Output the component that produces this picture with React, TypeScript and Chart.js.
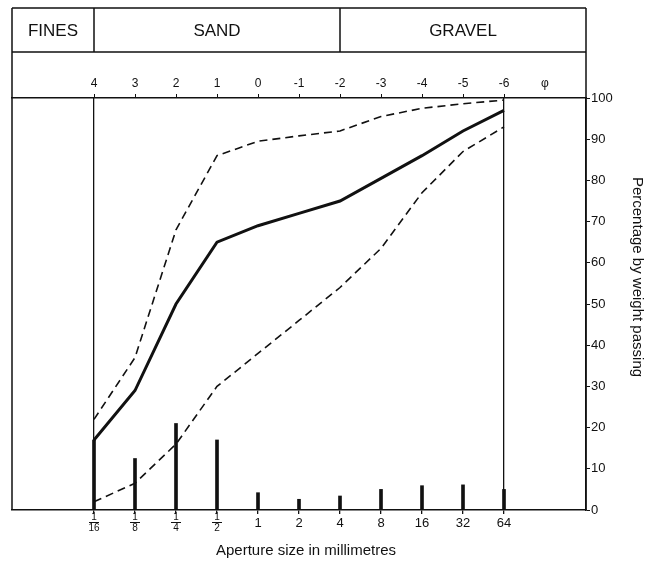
import React, { useEffect, useRef } from "react";
import { Chart, registerables } from "chart.js";

Chart.register(...registerables);

// ---- data ----
const phiValues = [4, 3, 2, 1, 0, -1, -2, -3, -4, -5, -6];
const apertureLabels = ["1/16", "1/8", "1/4", "1/2", "1", "2", "4", "8", "16", "32", "64"];
const upperEnvelope = [22, 37, 68, 86, 89.5, 90.8, 92, 95.5, 97.5, 98.6, 99.5];
const meanCurve = [17, 29, 50, 65, 69, 72, 75, 80.5, 86, 92, 97];
const lowerEnvelope = [2, 6.5, 16, 30, 38, 46, 54, 63.5, 77, 87, 93];
const retainedPercent = [17, 12.5, 21, 17, 4.2, 2.6, 3.4, 5, 5.9, 6.1, 5];
const phiTickLabels = ["4", "3", "2", "1", "0", "-1", "-2", "-3", "-4", "-5", "-6", "φ"];
const phiTickPhi = [4, 3, 2, 1, 0, -1, -2, -3, -4, -5, -6, -7];
const percentTicks = [0, 10, 20, 30, 40, 50, 60, 70, 80, 90, 100];
const zoneNames = ["FINES", "SAND", "GRAVEL"];
const zoneEdgesPhi = [4, -2];
const xTitle = "Aperture size in millimetres";
const yTitle = "Percentage by weight passing";

const FONT = "'Liberation Sans', Arial, Helvetica, sans-serif";
const INK = "#111";

// scale value is -phi (log2 of mm)
const xs = phiValues.map((p) => -p);

const framePlugin = {
  id: "frame",
  afterDraw(chart: any) {
    const { ctx, chartArea: ca, scales } = chart;
    const sx = scales.x;
    const top = 8;
    const headerBottom = 52;
    ctx.save();
    ctx.strokeStyle = INK;
    ctx.lineWidth = 1.5;
    ctx.beginPath();
    ctx.moveTo(ca.left, top);
    ctx.lineTo(ca.right, top);
    ctx.moveTo(ca.left, headerBottom);
    ctx.lineTo(ca.right, headerBottom);
    ctx.moveTo(ca.left, top);
    ctx.lineTo(ca.left, ca.bottom);
    ctx.moveTo(ca.right, top);
    ctx.lineTo(ca.right, ca.bottom);
    const edges = zoneEdgesPhi.map((p) => sx.getPixelForValue(-p));
    edges.forEach((px: number) => {
      ctx.moveTo(px, top);
      ctx.lineTo(px, headerBottom);
    });
    ctx.stroke();

    // zone names
    const bounds = [ca.left, ...edges, ca.right];
    ctx.fillStyle = INK;
    ctx.font = `17px ${FONT}`;
    ctx.textAlign = "center";
    ctx.textBaseline = "middle";
    zoneNames.forEach((name, i) => {
      ctx.fillText(name, (bounds[i] + bounds[i + 1]) / 2, (top + headerBottom) / 2 + 1);
    });

    // fraction tick labels
    apertureLabels.forEach((lab, i) => {
      if (!lab.includes("/")) return;
      const [num, den] = lab.split("/");
      const px = sx.getPixelForValue(xs[i]);
      ctx.font = `10px ${FONT}`;
      ctx.fillText(num, px, 517.5);
      ctx.fillText(den, px, 528);
      ctx.lineWidth = 1;
      ctx.beginPath();
      ctx.moveTo(px - 5, 522.5);
      ctx.lineTo(px + 5, 522.5);
      ctx.stroke();
    });

    // axis titles
    ctx.font = `15px ${FONT}`;
    ctx.fillText(xTitle, 306, 551);
    ctx.translate(637, 277);
    ctx.rotate(Math.PI / 2);
    ctx.fillText(yTitle, 0, 0);
    ctx.restore();
  },
};

export default function App() {
  const ref = useRef<HTMLCanvasElement | null>(null);

  useEffect(() => {
    if (!ref.current) return;
    Chart.defaults.font.family = FONT;
    const lineBase = {
      type: "line" as const,
      xAxisID: "x",
      yAxisID: "y",
      pointRadius: 0,
      borderColor: INK,
      fill: false,
      tension: 0,
    };
    const chart = new Chart(ref.current, {
      type: "line",
      data: {
        datasets: [
          {
            ...lineBase,
            label: "Upper limit",
            data: xs.map((x, i) => ({ x, y: upperEnvelope[i] })),
            borderWidth: 1.6,
            borderDash: [8, 5],
          },
          {
            ...lineBase,
            label: "Mean",
            data: xs.map((x, i) => ({ x, y: meanCurve[i] })),
            borderWidth: 3,
          },
          {
            ...lineBase,
            label: "Lower limit",
            data: xs.map((x, i) => ({ x, y: lowerEnvelope[i] })),
            borderWidth: 1.6,
            borderDash: [8, 5],
          },
          {
            type: "bar" as const,
            label: "Retained",
            xAxisID: "x",
            yAxisID: "y",
            data: xs.map((x, i) => ({ x, y: retainedPercent[i] })),
            backgroundColor: INK,
            borderWidth: 0,
            barThickness: 3,
          } as any,
        ],
      },
      options: {
        responsive: false,
        animation: false,
        devicePixelRatio: 1,
        layout: { padding: { left: 12, top: 0, right: 0, bottom: 0 } },
        plugins: {
          legend: { display: false },
          tooltip: { enabled: false },
        },
        scales: {
          x: {
            type: "linear",
            position: "bottom",
            min: -6,
            max: 8,
            offset: false,
            afterBuildTicks: (s: any) => {
              s.ticks = xs.map((v) => ({ value: v }));
            },
            afterFit: (s: any) => {
              s.height = 51;
            },
            ticks: {
              autoSkip: false,
              maxRotation: 0,
              padding: 2,
              color: INK,
              font: { size: 13, family: FONT },
              callback: (_v: any, i: number) =>
                apertureLabels[i].includes("/") ? "" : apertureLabels[i],
            },
            grid: {
              offset: false,
              drawOnChartArea: true,
              tickLength: 4,
              lineWidth: 1.3,
              tickColor: INK,
              color: (c: any) =>
                c.tick && (c.tick.value === -4 || c.tick.value === 6) ? INK : "rgba(0,0,0,0)",
            },
            border: { display: true, color: INK, width: 1.5 },
          },
          x2: {
            type: "linear",
            position: "top",
            min: -6,
            max: 8,
            offset: false,
            afterBuildTicks: (s: any) => {
              s.ticks = phiTickPhi.map((p) => ({ value: -p }));
            },
            afterFit: (s: any) => {
              s.height = 98;
            },
            ticks: {
              autoSkip: false,
              maxRotation: 0,
              padding: 3,
              color: INK,
              font: { size: 12, family: FONT },
              callback: (_v: any, i: number) => phiTickLabels[i],
            },
            grid: {
              drawOnChartArea: false,
              tickLength: 4,
              lineWidth: 1,
              color: INK,
              tickColor: (c: any) =>
                c.tick && c.tick.value === 7 ? "rgba(0,0,0,0)" : INK,
            },
            border: { display: true, color: INK, width: 1.5 },
          },
          y: {
            type: "linear",
            position: "right",
            min: 0,
            max: 100,
            afterBuildTicks: (s: any) => {
              s.ticks = percentTicks.map((v) => ({ value: v }));
            },
            afterFit: (s: any) => {
              s.width = 73;
            },
            ticks: {
              padding: 1,
              color: INK,
              font: { size: 13, family: FONT },
              callback: (v: any) => String(v),
            },
            grid: {
              drawOnChartArea: false,
              tickLength: 4,
              lineWidth: 1,
              color: INK,
            },
            border: { display: true, color: INK, width: 1.5 },
          },
        },
      } as any,
      plugins: [framePlugin],
    });
    return () => chart.destroy();
  }, []);

  return (
    <div style={{ position: "fixed", left: 0, top: 0, width: 659, height: 561, background: "#fff" }}>
      <canvas ref={ref} width={659} height={561} style={{ display: "block" }} />
    </div>
  );
}
